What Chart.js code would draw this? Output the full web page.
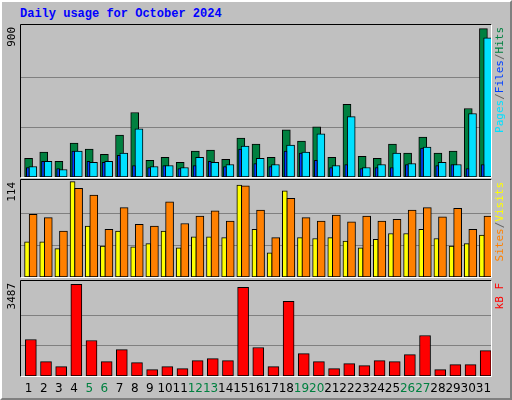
<!DOCTYPE html>
<html>
<head>
<meta charset="utf-8">
<script src="https://cdn.jsdelivr.net/npm/chart.js@4"></script>
<style>
  body { margin: 0; background: #c0c0c0; }
  #wrap { position: relative; width: 512px; height: 400px; background: #c0c0c0; overflow: hidden; }
  #wrap canvas { position: absolute; left: 0; top: 0; }
  #edge { position: absolute; left: 0; top: 0; width: 508px; height: 396px;
          border-top: 2px solid #ffffff; border-left: 2px solid #ffffff;
          border-right: 2px solid #808080; border-bottom: 2px solid #808080; }
  #title { position: absolute; left: 20px; top: 7px; font: bold 12px 'Liberation Mono', monospace; color: #0000ff; }
</style>
</head>
<body>
<div id="wrap">
  <div id="edge"></div>
  <div id="title">Daily usage for October 2024</div>
  <canvas id="c1" width="512" height="400"></canvas>
  <canvas id="c2" width="512" height="400"></canvas>
  <canvas id="c3" width="512" height="400"></canvas>
</div>
<script>
// ===== data =====
const days = Array.from({ length: 31 }, (_, i) => i + 1);
const weekendDays = [5, 6, 12, 13, 19, 20, 26, 27];

const hits  = [112,149,94,204,167,136,252,387,100,118,88,155,161,106,234,198,118,283,216,301,118,436,124,112,198,143,240,143,155,411,890];
const files = [63,94,45,155,88,94,143,289,63,69,57,118,88,75,185,112,75,191,149,259,69,362,57,75,143,81,179,88,75,381,835];
const pages = [57,94,51,155,94,88,130,69,57,69,51,69,94,63,167,81,63,155,143,100,57,75,51,57,57,75,173,69,75,51,75];

const sites  = [42,42,34,114,61,37,55,36,40,55,35,48,48,47,110,57,29,103,47,46,47,43,35,45,52,52,57,46,37,40,50];
const visits = [75,71,55,106,98,57,83,63,61,90,64,73,79,67,109,80,47,94,71,67,74,66,73,67,69,80,83,72,82,57,73];

const kbytes = [1387,547,356,3487,1349,547,1005,509,242,356,280,586,662,586,3373,1082,356,2839,853,547,280,471,395,586,547,815,1540,242,433,433,967];

const C = {
  hits: '#008040', files: '#00e0ff', pages: '#0040ff',
  sites: '#ffff00', visits: '#ff8000', kb: '#ff0000',
  grid: '#808080', slash: '#606060'
};

// ── panel decoration: frame, grid lines, side labels ──
const panelPlugin = {
  id: 'panel',
  beforeDatasetsDraw(chart, args, o) {
    const { ctx, chartArea: a, scales } = chart;
    ctx.save();
    ctx.strokeStyle = C.grid;
    ctx.lineWidth = 1;
    o.grid.forEach(v => {
      const y = Math.round(scales.y.getPixelForValue(v)) + 0.5;
      ctx.beginPath(); ctx.moveTo(a.left, y); ctx.lineTo(a.right, y); ctx.stroke();
    });
    ctx.restore();
  },
  afterDraw(chart, args, o) {
    const { ctx, chartArea: a, scales } = chart;
    ctx.save();
    // frame
    ctx.lineWidth = 1;
    ctx.strokeStyle = '#000000';
    ctx.beginPath();
    ctx.moveTo(a.left - 0.5, a.bottom + 0.5); ctx.lineTo(a.left - 0.5, a.top - 0.5); ctx.lineTo(a.right + 0.5, a.top - 0.5);
    ctx.stroke();
    ctx.strokeStyle = '#ffffff';
    ctx.beginPath();
    ctx.moveTo(a.right + 0.5, a.top - 0.5); ctx.lineTo(a.right + 0.5, a.bottom + 0.5); ctx.lineTo(a.left - 0.5, a.bottom + 0.5);
    ctx.stroke();

    // left max label
    ctx.font = "11px 'DejaVu Sans Mono', monospace";
    ctx.fillStyle = '#000000';
    ctx.textBaseline = 'middle';
    ctx.translate(12, a.top + 2);
    ctx.rotate(-Math.PI / 2);
    ctx.textAlign = 'right';
    ctx.fillText(o.maxLabel, 0, 0);
    ctx.setTransform(1, 0, 0, 1, 0, 0);

    // right legend, reading upward, ending near the top
    ctx.translate(500, a.top + 2);
    ctx.rotate(-Math.PI / 2);
    ctx.textAlign = 'left';
    let x = -o.legend.reduce((w, p) => w + ctx.measureText(p[0]).width, 0);
    o.legend.forEach(([t, col]) => {
      ctx.fillStyle = col;
      ctx.fillText(t, x, 0);
      x += ctx.measureText(t).width;
    });
    ctx.setTransform(1, 0, 0, 1, 0, 0);

    // day labels under the last panel
    if (o.dayLabels) {
      ctx.font = "12px 'DejaVu Sans', sans-serif";
      ctx.textAlign = 'center';
      ctx.textBaseline = 'middle';
      days.forEach(d => {
        ctx.fillStyle = weekendDays.includes(d) ? C.hits : '#000000';
        ctx.fillText(String(d), scales.x.getPixelForValue(d), 389);
      });
    }
    ctx.restore();
  }
};

function bars(label, values, offset, color, width, order) {
  return {
    label,
    data: values.map((v, i) => ({ x: days[i] + offset, y: v })),
    backgroundColor: color,
    borderColor: '#000000',
    borderWidth: 1,
    borderSkipped: false,
    barThickness: width,
    grouped: false,
    order
  };
}

function makePanel(id, top, bottom, yMax, datasets, panelOpts) {
  return new Chart(document.getElementById(id), {
    type: 'bar',
    data: { datasets },
    options: {
      responsive: false,
      animation: false,
      events: [],
      layout: { padding: { left: 21, right: 21, top, bottom: 400 - bottom } },
      plugins: { legend: { display: false }, tooltip: { enabled: false }, panel: panelOpts },
      scales: {
        x: { type: 'linear', min: 0.5, max: 31.5, display: false, offset: false },
        y: { min: 0, max: yMax, display: false }
      }
    },
    plugins: [panelPlugin]
  });
}

makePanel('c1', 25, 177, 912, [
  bars('Hits', hits, 0.0, C.hits, 8, 3),
  bars('Files', files, 0.28, C.files, 8, 2),
  bars('Pages', pages, -0.05, C.pages, 3, 1)
], {
  grid: [300, 600], maxLabel: '900',
  legend: [['Pages', C.files], ['/', C.slash], ['Files', C.pages], ['/', C.slash], ['Hits', C.hits]]
});

makePanel('c2', 180, 277, 116, [
  bars('Sites', sites, -0.1, C.sites, 5, 2),
  bars('Visits', visits, 0.3, C.visits, 8, 1)
], {
  grid: [38, 76], maxLabel: '114',
  legend: [['Sites', C.visits], ['/', C.slash], ['Visits', C.sites]]
});

makePanel('c3', 281, 376, 3612, [
  bars('kB F', kbytes, 0.15, C.kb, 11, 1)
], {
  grid: [1162, 2325], maxLabel: '3487', dayLabels: true,
  legend: [['kB F', C.kb]]
});
</script>
</body>
</html>
